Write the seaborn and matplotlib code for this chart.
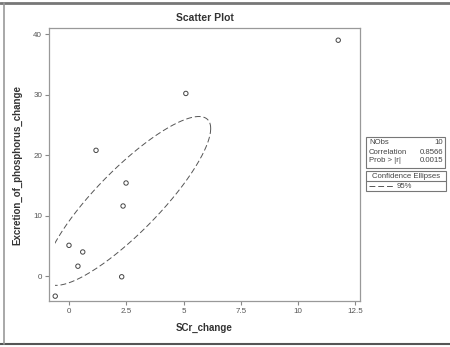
import numpy as np
import pandas as pd
import matplotlib
matplotlib.use("Agg")
import matplotlib.pyplot as plt
import seaborn as sns
from matplotlib.patches import Rectangle
from matplotlib.lines import Line2D

scr_change = [11.75, 5.1, 1.18, 2.49, 2.36, 0.0, 0.6, 0.39, 2.3, -0.6]
phos_change = [39.0, 30.2, 20.8, 15.4, 11.6, 5.1, 4.0, 1.65, -0.1, -3.3]
x_ticks = [0, 2.5, 5, 7.5, 10, 12.5]
x_tick_labels = ["0", "2.5", "5", "7.5", "10", "12.5"]
y_ticks = [0, 10, 20, 30, 40]
y_tick_labels = ["0", "10", "20", "30", "40"]
stats_rows = [("NObs", "10"), ("Correlation", "0.8566"), ("Prob > |r|", "0.0015")]
conf_level = 0.95

df = pd.DataFrame({"SCr_change": scr_change,
                   "Excretion_of_phosphorus_change": phos_change})

sns.set_theme(style="white")
plt.rcParams['font.family'] = ['Liberation Sans', 'DejaVu Sans']

fig = plt.figure(figsize=(4.5, 3.47), dpi=100)
ax = fig.add_axes([0.109, 0.1326, 0.691, 0.7864])

# confidence ellipse for the mean
X = df.values
n, p = X.shape
mean = X.mean(axis=0)
S = np.cov(X, rowvar=False)
m = n - p
F = (m / p) * ((1 - conf_level) ** (-p / m) - 1)
c = p * (n - 1) / (n * (n - p)) * F
L = np.linalg.cholesky(S)
t = np.linspace(0, 2 * np.pi, 400)
circ = np.vstack([np.cos(t), np.sin(t)])
ell = (mean[:, None] + np.sqrt(c) * L @ circ).T
ell_df = pd.DataFrame({"x": ell[:, 0], "y": ell[:, 1]})

sns.lineplot(data=ell_df, x="x", y="y", sort=False, estimator=None, ax=ax,
             color="#555555", lw=0.7, linestyle=(0, (6, 3)))
# clip the ellipse to the data range (as the original software does)
clip = Rectangle((min(scr_change), min(phos_change)),
                 max(scr_change) - min(scr_change), max(phos_change) - min(phos_change),
                 transform=ax.transData, fill=False, visible=False)
ax.add_patch(clip)
ax.lines[-1].set_clip_path(clip)

sns.scatterplot(data=df, x="SCr_change", y="Excretion_of_phosphorus_change", ax=ax,
                marker="o", s=10, facecolor="none", edgecolor="#444444", linewidth=0.7)

ax.set_xlim(-0.87, 12.7)
ax.set_ylim(-4.1, 41.0)
ax.set_xticks(x_ticks)
ax.set_xticklabels(x_tick_labels)
ax.set_yticks(y_ticks)
ax.set_yticklabels(y_tick_labels)
ax.tick_params(axis="both", direction="out", length=3, width=0.8, color="#888888",
               labelsize=5.8, labelcolor="#555555", pad=2, left=True, bottom=True)
for s in ax.spines.values():
    s.set_color("#999999")
    s.set_linewidth(0.9)
ax.set_xlabel("SCr_change", fontsize=7, fontweight="bold", color="#333333", labelpad=6)
ax.set_ylabel("Excretion_of_phosphorus_change", fontsize=7, fontweight="bold",
              color="#333333", labelpad=8)
ax.set_title("Scatter Plot", fontsize=7.5, fontweight="bold", color="#333333", pad=5)

def fx(px):
    return px / 450.0

def fy(py):
    return 1 - py / 347.0

# stats box
fig.patches.append(Rectangle((fx(366), fy(168)), fx(79), 31 / 347.0, transform=fig.transFigure,
                             fill=False, edgecolor="#777777", lw=0.8))
for i, (k, v) in enumerate(stats_rows):
    yy = fy(143 + 9 * i)
    fig.text(fx(369), yy, k, fontsize=5.6, color="#444444", va="center", ha="left")
    fig.text(fx(443), yy, v, fontsize=5.6, color="#444444", va="center", ha="right")

# legend box
fig.patches.append(Rectangle((fx(366), fy(191)), fx(80), 20 / 347.0, transform=fig.transFigure,
                             fill=False, edgecolor="#777777", lw=0.8))
fig.lines.append(Line2D([fx(366), fx(446)], [fy(181), fy(181)], transform=fig.transFigure,
                        color="#777777", lw=0.8))
fig.text(fx(406), fy(176), "Confidence Ellipses", fontsize=5.6, color="#444444",
         va="center", ha="center")
fig.lines.append(Line2D([fx(369), fx(394)], [fy(186), fy(186)], transform=fig.transFigure,
                        color="#555555", lw=0.7, linestyle=(0, (6, 3))))
fig.text(fx(397), fy(186), "95%", fontsize=5.6, color="#444444", va="center", ha="left")

# outer frame
fig.lines.append(Line2D([0, 1], [fy(3), fy(3)], transform=fig.transFigure, color="#777777", lw=2))
fig.lines.append(Line2D([0, 1], [fy(344), fy(344)], transform=fig.transFigure, color="#555555", lw=1.5))
fig.lines.append(Line2D([fx(3.5), fx(3.5)], [fy(3), fy(344)], transform=fig.transFigure,
                        color="#999999", lw=1.2))

fig.savefig("out.png", dpi=100)
